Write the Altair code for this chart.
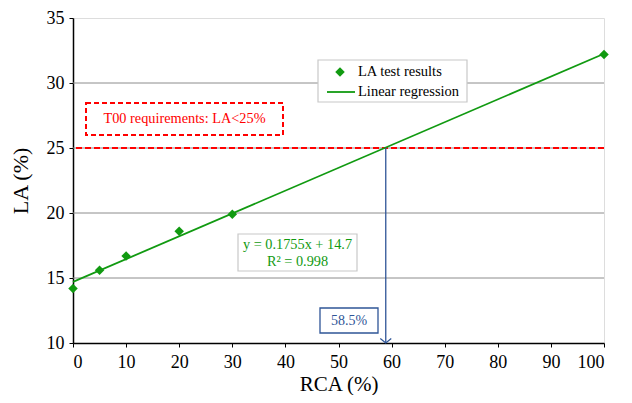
import altair as alt
import pandas as pd

# Data
rca = [0, 5, 10, 20, 30, 100]
la = [14.2, 15.6, 16.7, 18.6, 19.9, 32.2]
reg_x = [0, 100]
reg_y = [14.7, 32.25]
grid_y = [15, 20, 25, 30]
limit_y = [25]
cross_x = [58.9]
x_ticks = [0, 10, 20, 30, 40, 50, 60, 70, 80, 90, 100]
y_ticks = [10, 15, 20, 25, 30, 35]

FONT = "Liberation Serif"
GREEN = "#119a11"
RED = "#ff0000"
BLUE = "#2f5597"

pts = pd.DataFrame({"RCA": rca, "LA": la})
reg = pd.DataFrame({"RCA": reg_x, "LA": reg_y})
grid = pd.DataFrame({"LA": grid_y})
lim = pd.DataFrame({"LA": limit_y})
arrow = pd.DataFrame({"RCA": cross_x, "top": limit_y, "bottom": [10]})

xs = alt.Scale(domain=[0, 100], nice=False, zero=False)
ys = alt.Scale(domain=[10, 35], nice=False, zero=False)

xaxis = alt.Axis(values=x_ticks, title="RCA (%)", grid=False, tickSize=4,
                 domainColor="black", domainWidth=1.5, tickColor="black",
                 labelFont=FONT, labelFontSize=18, labelColor="black", labelPadding=6,
                 titleFont=FONT, titleFontSize=21, titleFontWeight="normal",
                 titleColor="black", titlePadding=2)
yaxis = alt.Axis(values=y_ticks, title="LA (%)", grid=False, tickSize=4,
                 domainColor="black", domainWidth=1.5, tickColor="black",
                 labelFont=FONT, labelFontSize=18, labelColor="black", labelPadding=5,
                 titleFont=FONT, titleFontSize=22, titleFontWeight="normal",
                 titleColor="black", titlePadding=14)

base_x = alt.X("RCA:Q", scale=xs, axis=xaxis)
base_y = alt.Y("LA:Q", scale=ys, axis=yaxis)

gridl = alt.Chart(grid).mark_rule(color="#8c8c8c", strokeWidth=1).encode(
    y=alt.Y("LA:Q", scale=ys, axis=yaxis))

limit = alt.Chart(lim).mark_rule(color=RED, strokeWidth=2, strokeDash=[6, 3]).encode(
    y=alt.Y("LA:Q", scale=ys, axis=yaxis))

line = alt.Chart(reg).mark_line(color=GREEN, strokeWidth=1.8).encode(x=base_x, y=base_y)

points = alt.Chart(pts).mark_point(shape="diamond", filled=True, color=GREEN,
                                   size=90, opacity=1).encode(x=base_x, y=base_y)

arr_line = alt.Chart(arrow).mark_rule(color=BLUE, strokeWidth=1.3).encode(
    x=alt.X("RCA:Q", scale=xs, axis=xaxis),
    y=alt.Y("top:Q", scale=ys, axis=yaxis), y2="bottom:Q")
arr_head = alt.Chart(arrow).mark_point(shape="M-1,-0.8L0,0L1,-0.8", filled=False,
                                       color=BLUE, strokeWidth=1.3, size=121, opacity=1).encode(
    x=alt.X("RCA:Q", scale=xs, axis=xaxis), y=alt.Y("bottom:Q", scale=ys, axis=yaxis))

one = alt.Data(values=[{}])

def box(x1, x2, y1, y2, stroke, dash=None, width=1.2):
    kw = dict(fill="white", stroke=stroke, strokeWidth=width)
    if dash:
        kw["strokeDash"] = dash
    return alt.Chart(one).mark_rect(**kw).encode(
        x=alt.value(x1), x2=alt.value(x2), y=alt.value(y1), y2=alt.value(y2))

def txt(s, x, y, color, size=13, align="center"):
    return alt.Chart(one).mark_text(text=s, font=FONT, fontSize=size, color=color,
                                    align=align, baseline="middle").encode(
        x=alt.value(x), y=alt.value(y))

# annotation positions are in pixels relative to the plot area (top-left = 0,0)
legend = [
    box(245, 394, 42, 84, "#c8c8c8", width=1.2),
    alt.Chart(one).mark_point(shape="diamond", filled=True, color=GREEN, size=90, opacity=1).encode(
        x=alt.value(267), y=alt.value(54)),
    txt("LA test results", 285, 54, "black", 14.5, "left"),
    alt.Chart(one).mark_rule(color=GREEN, strokeWidth=1.8).encode(
        x=alt.value(254), x2=alt.value(282), y=alt.value(74)),
    txt("Linear regression", 285, 74, "black", 14.5, "left"),
]

req = [box(13, 210, 85, 117, RED, dash=[5, 3], width=2),
       txt("T00 requirements: LA<25%", 111.5, 101, RED, 14.3)]

eq = [box(165, 284, 216, 253, "#c8c8c8", width=1.2),
      txt("y = 0.1755x + 14.7", 224.5, 227, GREEN, 14.3),
      txt("R² = 0.998", 224.5, 244, GREEN, 14.3)]

pct = [box(247, 305, 290, 315, BLUE, width=1.3),
       txt("58.5%", 276, 303, BLUE, 14)]

chart = alt.layer(gridl, limit, line, points, arr_line, arr_head,
                  *req, *eq, *pct, *legend).properties(
    width=531, height=325,
    autosize=alt.AutoSizeParams(type="none"),
    padding={"left": 65, "top": 10, "right": 20, "bottom": 52},
).configure_view(stroke="black", strokeWidth=1.5).configure(
    background="white", font=FONT)

chart.save("out.html", embed_options={"renderer": "svg", "actions": False})
